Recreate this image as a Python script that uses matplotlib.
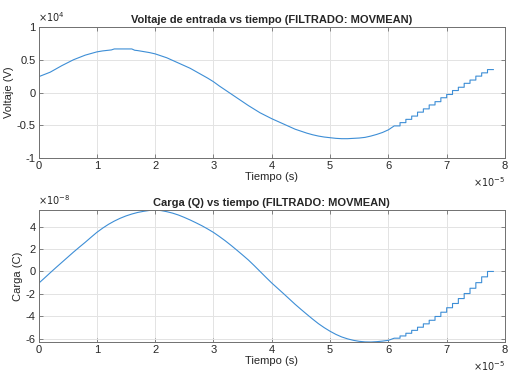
import numpy as np
import matplotlib
matplotlib.use("Agg")
import matplotlib.pyplot as plt

plt.rcParams['font.family'] = ['Liberation Sans', 'DejaVu Sans']

# time axis in units of 1e-5 s
t_v_smooth = [0.0, 0.1, 0.2, 0.3, 0.4, 0.5, 0.6, 0.7, 0.8, 0.9, 1.0, 1.1, 1.2, 1.25,
              1.3, 1.6, 1.65, 1.7, 1.8, 1.9, 2.0, 2.1, 2.2, 2.3, 2.4, 2.5, 2.6, 2.7,
              2.8, 2.9, 3.0, 3.1, 3.2, 3.3, 3.4, 3.5, 3.6, 3.7, 3.8, 3.9, 4.0, 4.1,
              4.2, 4.3, 4.4, 4.5, 4.6, 4.7, 4.8, 4.9, 5.0, 5.1, 5.2, 5.3, 5.4, 5.5,
              5.6, 5.7, 5.8, 5.9, 6.0]
# input voltage, units of 1e4 V
v_smooth = [0.24, 0.275, 0.31, 0.36, 0.41, 0.455, 0.50, 0.535, 0.57, 0.595, 0.62,
            0.635, 0.645, 0.65, 0.665, 0.665, 0.645, 0.64, 0.625, 0.61, 0.59, 0.56,
            0.53, 0.49, 0.45, 0.41, 0.37, 0.32, 0.27, 0.22, 0.165, 0.10, 0.04,
            -0.02, -0.08, -0.14, -0.20, -0.255, -0.31, -0.355, -0.40, -0.44, -0.48,
            -0.52, -0.56, -0.59, -0.62, -0.645, -0.665, -0.68, -0.69, -0.70, -0.705,
            -0.705, -0.70, -0.695, -0.685, -0.665, -0.64, -0.61, -0.57]

t_q_smooth = [0.0, 0.1, 0.2, 0.3, 0.4, 0.5, 0.6, 0.7, 0.8, 0.9, 1.0, 1.1, 1.2, 1.3,
              1.4, 1.5, 1.6, 1.7, 1.8, 1.9, 2.0, 2.1, 2.2, 2.3, 2.4, 2.5, 2.6, 2.7,
              2.8, 2.9, 3.0, 3.1, 3.2, 3.3, 3.4, 3.5, 3.6, 3.7, 3.8, 3.9, 4.0, 4.1,
              4.2, 4.3, 4.4, 4.5, 4.6, 4.7, 4.8, 4.9, 5.0, 5.1, 5.2, 5.3, 5.4, 5.5,
              5.6, 5.7, 5.8, 5.9, 6.0]
# charge, units of 1e-8 C
q_smooth = [-1.07, -0.60, -0.12, 0.35, 0.81, 1.27, 1.73, 2.17, 2.60, 3.05, 3.49,
            3.87, 4.21, 4.50, 4.75, 4.96, 5.13, 5.27, 5.37, 5.45, 5.49, 5.44, 5.34,
            5.21, 5.04, 4.83, 4.60, 4.35, 4.09, 3.80, 3.49, 3.13, 2.75, 2.34, 1.91,
            1.47, 1.02, 0.52, 0.0, -0.52, -1.03, -1.50, -1.97, -2.45, -2.93, -3.38,
            -3.82, -4.25, -4.66, -5.02, -5.34, -5.62, -5.85, -6.02, -6.15, -6.24,
            -6.29, -6.30, -6.27, -6.22, -6.15]

# quantized tail of both signals (held levels; last entry closes the final hold)
t_steps = [6.1, 6.2, 6.3, 6.4, 6.5, 6.6, 6.7, 6.8, 6.9, 7.0, 7.1, 7.2, 7.3, 7.4,
           7.5, 7.6, 7.7, 7.8]
v_steps = [-0.51, -0.46, -0.41, -0.36, -0.30, -0.25, -0.19, -0.14, -0.08, -0.03,
           0.03, 0.08, 0.14, 0.19, 0.25, 0.30, 0.35, 0.35]
q_steps = [-5.96, -5.76, -5.52, -5.26, -4.98, -4.68, -4.36, -4.02, -3.64, -3.24,
           -2.86, -2.42, -1.97, -1.50, -1.00, -0.48, 0.0, 0.0]

x_ticks = [0, 1, 2, 3, 4, 5, 6, 7, 8]
v_ticks = [-1, -0.5, 0, 0.5, 1]
v_ticklabels = ['-1', '-0.5', '0', '0.5', '1']
q_ticks = [-6, -4, -2, 0, 2, 4]

LINE = '#3d8ed6'
TXT = '#262626'
GRID = '#e3e3e3'
SPINE = '#707070'

fig = plt.figure(figsize=(5.32, 3.81), dpi=100)
fig.patch.set_facecolor('white')

W = 532.0
H = 381.0
left = 38.5 / W
width = (505 - 38.5) / W
ax1 = fig.add_axes([left, 1 - 158 / H, width, 131 / H])
ax2 = fig.add_axes([left, 1 - 342 / H, width, 132 / H])


def style(ax):
    ax.set_xlim(0, 8)
    ax.set_xticks(x_ticks)
    ax.set_xticklabels([str(v) for v in x_ticks])
    ax.grid(True, color=GRID, linewidth=0.7)
    ax.set_axisbelow(True)
    for s in ax.spines.values():
        s.set_color(SPINE)
        s.set_linewidth(0.7)
    ax.tick_params(direction='in', length=3, width=0.6, colors=SPINE,
                   labelcolor=TXT, labelsize=8, top=True, right=True, pad=2)


def series(ts, ys, tst, yst):
    # smooth part, then a held-level staircase
    xs = list(ts) + [tst[0]]
    vs = list(ys) + [yst[0]]
    for k in range(1, len(tst)):
        xs.append(tst[k]); vs.append(yst[k - 1])
        xs.append(tst[k]); vs.append(yst[k])
    return xs, vs


xv, yv = series(t_v_smooth, v_smooth, t_steps, v_steps)
ax1.plot(xv, yv, color=LINE, linewidth=0.8)
style(ax1)
ax1.set_ylim(-1, 1)
ax1.set_yticks(v_ticks)
ax1.set_yticklabels(v_ticklabels)
ax1.set_title('Voltaje de entrada vs tiempo (FILTRADO: MOVMEAN)',
              fontsize=8, fontweight='bold', color=TXT, pad=3)
ax1.set_xlabel('Tiempo (s)', fontsize=8, color=TXT, labelpad=1)
ax1.set_ylabel('Voltaje (V)', fontsize=8, color=TXT, labelpad=2)

xq, yq = series(t_q_smooth, q_smooth, t_steps, q_steps)
ax2.plot(xq, yq, color=LINE, linewidth=0.8)
style(ax2)
ax2.set_ylim(min(yq), max(yq))
ax2.set_yticks(q_ticks)
ax2.set_yticklabels([str(v) for v in q_ticks])
ax2.set_title('Carga (Q) vs tiempo (FILTRADO: MOVMEAN)',
              fontsize=8, fontweight='bold', color=TXT, pad=3)
ax2.set_xlabel('Tiempo (s)', fontsize=8, color=TXT, labelpad=1)
ax2.set_ylabel('Carga (C)', fontsize=8, color=TXT, labelpad=2)

# exponent annotations
ax1.text(0.0, 1.02, r'$\times10^{4}$', transform=ax1.transAxes, fontsize=7,
         color=TXT, ha='left', va='bottom')
ax2.text(0.0, 1.02, r'$\times10^{-8}$', transform=ax2.transAxes, fontsize=7,
         color=TXT, ha='left', va='bottom')
for ax in (ax1, ax2):
    ax.text(1.0, -0.13, r'$\times10^{-5}$', transform=ax.transAxes, fontsize=7,
            color=TXT, ha='right', va='top')

fig.savefig('out.png', dpi=100, facecolor='white')
